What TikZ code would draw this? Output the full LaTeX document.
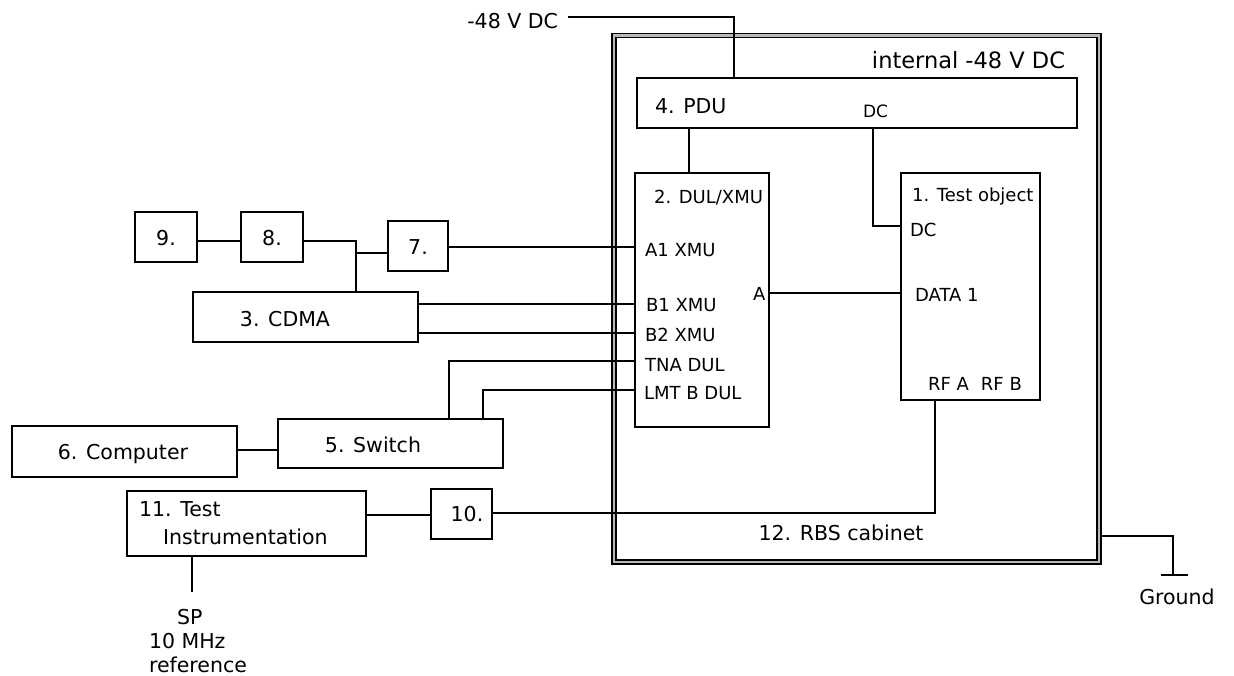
\documentclass[tikz,border=0pt]{standalone}
\usepackage{fontspec}
\setmainfont{DejaVu Sans}
\usetikzlibrary{calc}
\newcommand\bigf{\fontsize{20.5}{24}\selectfont}
\newcommand\smf{\fontsize{18}{21}\selectfont}
\begin{document}
\begin{tikzpicture}[x=1pt,y=-1pt,line width=2.1pt,
  box/.style={draw,rectangle,inner sep=0pt},
  lw/.style={anchor=base west,inner sep=0pt},
  le/.style={anchor=base east,inner sep=0pt},
  lc/.style={anchor=base,inner sep=0pt},
  cabinet/.style={draw,rectangle,inner sep=0pt,line width=1.6pt,double=gray!55,double distance=2.4pt}]
\useasboundingbox (0,0) rectangle (1234,675);

% cabinet
\node[cabinet,minimum width=485pt,minimum height=526.5pt] (cab) at (856.5,298.75) {};

% boxes
\node[box,minimum width=62pt,minimum height=50pt] (n9) at (166,237) {};
\node[box,minimum width=62pt,minimum height=50pt] (n8) at (272,237) {};
\node[box,minimum width=60pt,minimum height=50pt] (n7) at (418,246) {};
\node[box,minimum width=225pt,minimum height=50pt] (cdma) at (305.5,317) {};
\node[box,minimum width=440pt,minimum height=50pt] (pdu) at (857,103) {};
\node[box,minimum width=134pt,minimum height=254pt] (dul) at (702,300) {};
\node[box,minimum width=139pt,minimum height=227pt] (test) at (970.5,286.5) {};
\node[box,minimum width=225pt,minimum height=51pt] (comp) at (124.5,451.5) {};
\node[box,minimum width=225pt,minimum height=49pt] (sw) at (390.5,443.5) {};
\node[box,minimum width=239pt,minimum height=65pt] (ti) at (246.5,523.5) {};
\node[box,minimum width=61pt,minimum height=50pt] (n10) at (461.5,514) {};

% texts
\node[le,font=\bigf] (m48) at (559,28) {-48 V DC};
\node[le,font=\fontsize{22.5}{26}\selectfont] (intdc) at (1066,68.5) {internal -48 V DC};
\node[lw,font=\bigf] (pdut) at (654,113) {4. PDU};
\node[lw,font=\fontsize{17}{20}\selectfont] (pdudc) at (862,117.5) {DC};
\node[lw,font=\smf] (dult) at (653,203) {2. DUL/XMU};
\node[lw,font=\smf] (a1) at (644,256) {A1 XMU};
\node[lw,font=\smf] (b1) at (645,311) {B1 XMU};
\node[lw,font=\smf] (b2) at (644,341) {B2 XMU};
\node[lw,font=\smf] (tna) at (644,371) {TNA DUL};
\node[lw,font=\smf] (lmt) at (643,399) {LMT B DUL};
\node[lw,font=\smf] (aport) at (752,300) {A};
\node[lw,font=\smf] (testt) at (911,201) {1. Test object};
\node[lw,font=\smf] (tdc) at (909,236) {DC};
\node[lw,font=\smf] (data) at (914,301) {DATA 1};
\node[lw,font=\smf] (rf) at (927,390) {RF A\hspace{12pt}RF B};
\node[lc,font=\bigf] (cdmat) at (285,326) {3. CDMA};
\node[lc,font=\bigf] (n9t) at (166,245) {9.};
\node[lc,font=\bigf] (n8t) at (272,245) {8.};
\node[lc,font=\bigf] (n7t) at (418,254) {7.};
\node[lc,font=\bigf] (n10t) at (467,521) {10.};
\node[lc,font=\bigf] (compt) at (123,459) {6. Computer};
\node[lc,font=\bigf] (swt) at (373,452) {5. Switch};
\node[lw,font=\bigf] (tit1) at (138,516) {11. Test};
\node[lw,font=\bigf] (tit2) at (162,544) {Instrumentation};
\node[lc,font=\bigf] (cabt) at (841,540) {12. RBS cabinet};
\node[lc,font=\bigf] (gnd) at (1177,604) {Ground};
\node[anchor=north west,inner sep=0pt,align=left,font=\bigf] (sp) at (148,608) {\hspace{28pt}SP\\10 MHz\\reference};

% connectors
\coordinate (j1) at (356,241);
\coordinate (j2) at (356,253);
\draw (n9.east |- 0,241) -- (n8.west |- 0,241);
\draw (n8.east |- j1) -- (j1) -- (j1 |- cdma.north);
\draw (j2) -- (n7.west |- j2);
\draw (n7.east |- 0,247) -- (dul.west |- 0,247);
\draw (cdma.east |- 0,304) -- (dul.west |- 0,304);
\draw (cdma.east |- 0,333) -- (dul.west |- 0,333);
\draw (449,0 |- sw.north) -- (449,361) -- (dul.west |- 0,361);
\draw (483,0 |- sw.north) -- (483,390) -- (dul.west |- 0,390);
\draw (comp.east |- 0,450) -- (sw.west |- 0,450);
\draw (ti.east |- 0,515) -- (n10.west |- 0,515);
\coordinate (rfc) at (935,513);
\draw (n10.east |- rfc) -- (rfc) -- (rfc |- test.south);
\draw (192,0 |- ti.south) -- (192,592);
\draw (689,0 |- pdu.south) -- (689,0 |- dul.north);
\coordinate (dcc) at (873,226);
\draw (dcc |- pdu.south) -- (dcc) -- (test.west |- dcc);
\draw (dul.east |- 0,293) -- (test.west |- 0,293);
\coordinate (m48c) at (734,17);
\draw (568,17) -- (m48c) -- (m48c |- pdu.north);
\coordinate (g1) at (1173,536);
\coordinate (g2) at (1173,575);
\draw (cab.east |- g1) -- (g1) -- (g2);
\draw (1161,575) -- (1188,575);
\end{tikzpicture}
\end{document}
